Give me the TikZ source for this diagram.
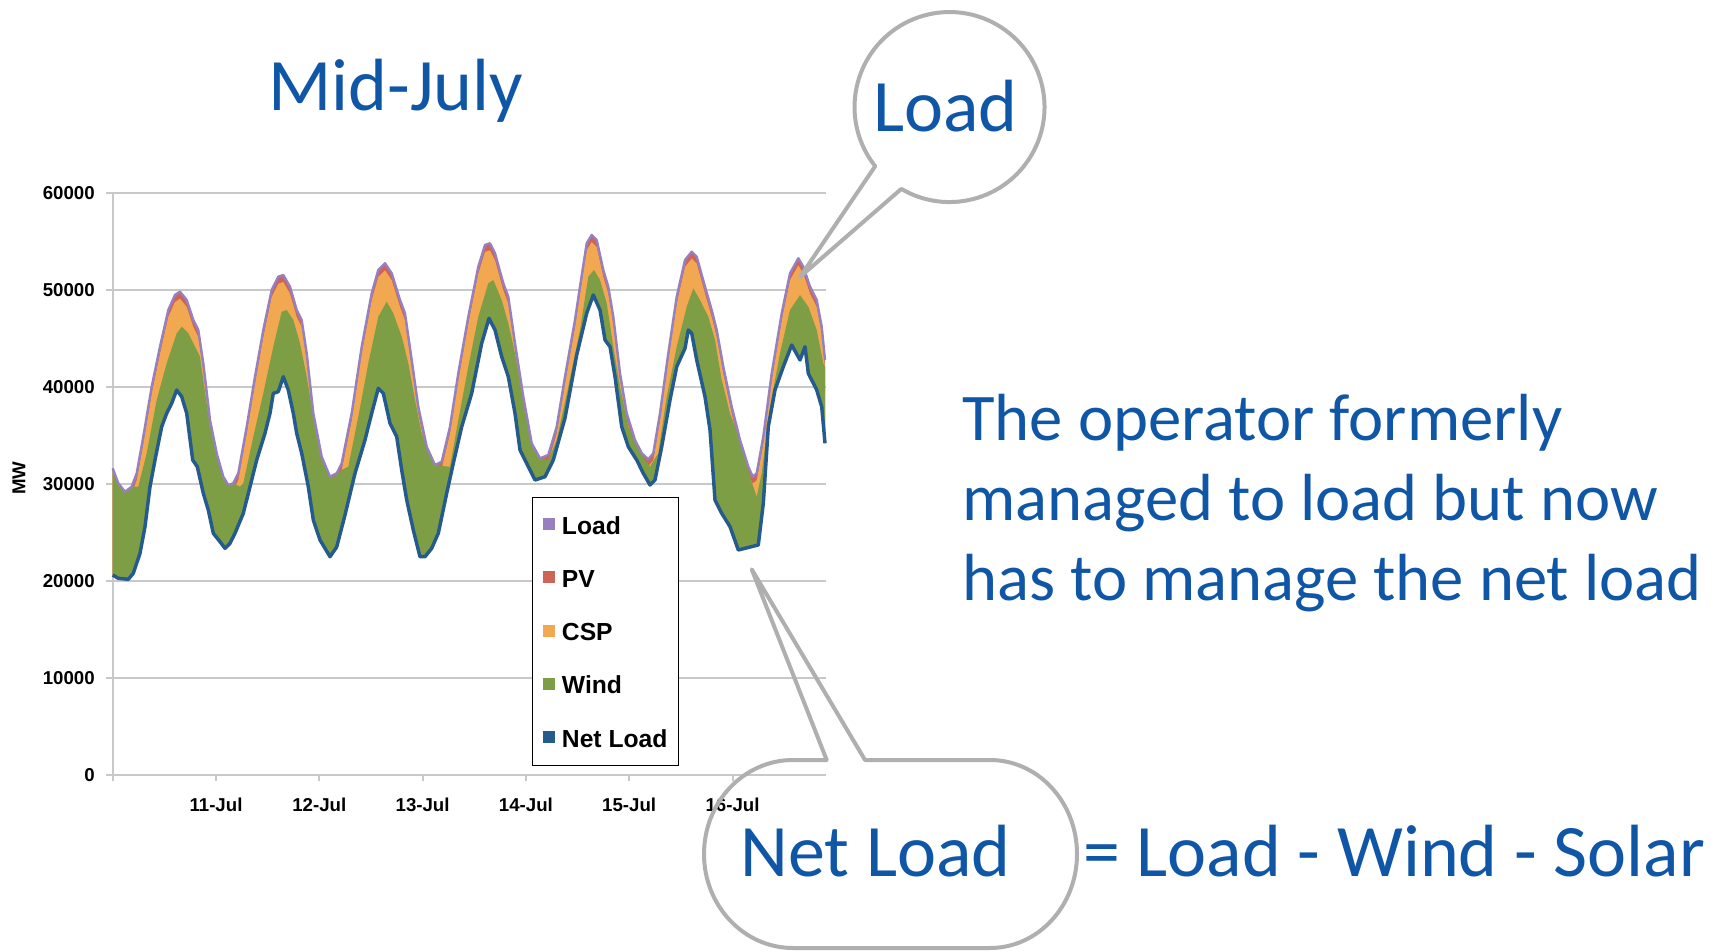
\documentclass[tikz,border=0pt]{standalone}
\usepackage{fontspec}
\setmainfont{Carlito}
\newfontfamily\chartfont{Liberation Sans}
\definecolor{txtblue}{HTML}{0F56A6}
\definecolor{bubgray}{HTML}{AFAFAF}
\definecolor{gridgray}{HTML}{C8C8C8}
\definecolor{loadc}{HTML}{9680C0}
\definecolor{pvc}{HTML}{CD6458}
\definecolor{cspc}{HTML}{F2A850}
\definecolor{windc}{HTML}{7E9E45}
\definecolor{netc}{HTML}{245A8C}

\def\Lpts{(112.7,-468.3) -- (118.3,-483.3) -- (125,-491.7) -- (131.7,-486.7) -- (136.7,-473.3) -- (143.3,-436.7) -- (151.7,-386.7) -- (160,-346.7) -- (168.3,-310) -- (175,-295) -- (180,-291.7) -- (186.7,-300) -- (193.3,-320) -- (198.3,-330) -- (203.3,-363.3) -- (210,-420) -- (216.7,-453.3) -- (223.3,-476.7) -- (228.3,-485) -- (233.3,-483.3) -- (238.3,-473.3) -- (246.7,-426.7) -- (255,-376.7) -- (263.3,-330) -- (271.7,-290) -- (278.3,-276.7) -- (283.3,-275) -- (290,-286.7) -- (296.7,-310) -- (301.7,-320) -- (306.7,-353.3) -- (313.3,-413.3) -- (321.7,-456.7) -- (330,-476.7) -- (336.7,-473.3) -- (341.7,-463.3) -- (351.7,-413.3) -- (361.7,-346.7) -- (371.7,-293.3) -- (378.3,-270) -- (385,-263.3) -- (391.7,-273.3) -- (400,-300) -- (405,-313.3) -- (411.7,-360) -- (418.3,-406.7) -- (426.7,-446.7) -- (435,-465) -- (441.7,-461.7) -- (450,-426.7) -- (458.3,-373.3) -- (468.3,-316.7) -- (478.3,-266.7) -- (485,-245) -- (490,-243.3) -- (495,-253.3) -- (503.3,-283.3) -- (508.3,-296.7) -- (515,-343.3) -- (523.3,-396.7) -- (531.7,-443.3) -- (540,-458.3) -- (548.3,-455) -- (556.7,-426.7) -- (565,-376.7) -- (575,-320) -- (580,-286.7) -- (586.7,-243.3) -- (591.7,-235) -- (596.7,-240) -- (603.3,-270) -- (608.3,-286.7) -- (613.3,-316.7) -- (620,-373.3) -- (626.7,-413.3) -- (635,-440) -- (641.7,-453.3) -- (648.3,-459.3) -- (653.3,-453.3) -- (660,-413.3) -- (668.3,-353.3) -- (676.7,-296.7) -- (685,-260) -- (691.7,-251.7) -- (696.7,-256.7) -- (705,-286.7) -- (711.7,-310) -- (716.7,-330) -- (723.3,-366.7) -- (731.7,-406.7) -- (740,-440) -- (748.3,-466.7) -- (752.7,-476.7) -- (756.7,-473.3) -- (763.3,-436.7) -- (771.7,-373.3) -- (781.7,-313.3) -- (790,-273.3) -- (798.3,-258.3) -- (803.3,-266.7) -- (810,-286.7) -- (816.7,-300) -- (821.7,-326.7) -- (825,-360)}

\def\Gpts{(112.7,-468.3) -- (118.3,-483.3) -- (125,-491.7) -- (131.7,-486.7) -- (138.3,-486.7) -- (146.7,-453.3) -- (156.7,-400) -- (166.7,-363.3) -- (176.7,-333.3) -- (181.7,-326.7) -- (188.3,-333.3) -- (195,-346.7) -- (200,-356.7) -- (203.3,-380) -- (210,-426.7) -- (216.7,-453.3) -- (223.3,-476.7) -- (228.3,-485) -- (233.3,-483.3) -- (240,-486.7) -- (243.3,-483.3) -- (253.3,-436.7) -- (263.3,-393.3) -- (273.3,-346.7) -- (281.7,-311.7) -- (286.7,-310) -- (293.3,-320) -- (300,-343.3) -- (306.7,-376.7) -- (313.3,-416.7) -- (321.7,-456.7) -- (330,-476.7) -- (335,-476.7) -- (341.7,-470) -- (348.3,-466.7) -- (358.3,-416.7) -- (368.3,-363.3) -- (378.3,-316.7) -- (386.7,-301.7) -- (393.3,-313.3) -- (401.7,-336.7) -- (408.3,-363.3) -- (415,-400) -- (421.7,-433.3) -- (426.7,-446.7) -- (435,-465) -- (438.3,-465) -- (441.7,-466) -- (450,-466.7) -- (458.3,-420) -- (468.3,-366.7) -- (478.3,-316.7) -- (488.3,-283.3) -- (493.3,-280) -- (501.7,-300) -- (508.3,-323.3) -- (515,-353.3) -- (521.7,-393.3) -- (528.3,-426.7) -- (531.7,-443.3) -- (540,-458.3) -- (548.3,-460) -- (556.7,-440) -- (568.3,-386.7) -- (580,-330) -- (588.3,-276.7) -- (594,-270) -- (600,-280) -- (606.7,-303.3) -- (613.3,-346.7) -- (620,-386.7) -- (628.3,-426.7) -- (636.7,-446.7) -- (641.7,-455) -- (650,-466.7) -- (658.3,-453.3) -- (666.7,-396.7) -- (676.7,-346.7) -- (686.7,-306.7) -- (693.3,-288.3) -- (700,-300) -- (708.3,-316.7) -- (715,-340) -- (721.7,-380) -- (730,-413.3) -- (740,-440) -- (750,-476.7) -- (756.7,-496.7) -- (761.7,-473.3) -- (770,-406.7) -- (780,-353.3) -- (790,-310) -- (800,-295) -- (808.3,-306.7) -- (816.7,-330) -- (823.3,-363.3) -- (825,-366.7)}

\def\Npts{(112.7,-575) -- (118.3,-578.3) -- (128.3,-579.3) -- (133.3,-573.3) -- (140,-553.3) -- (145,-526.7) -- (150,-486.7) -- (155,-460) -- (161.7,-426.7) -- (166.7,-413.3) -- (171.7,-403.3) -- (176.7,-390) -- (181.7,-396.7) -- (186.7,-413.3) -- (192.7,-460) -- (197.3,-466.7) -- (203.3,-493.3) -- (208.3,-510) -- (213.3,-533.3) -- (220,-541.7) -- (225,-548.3) -- (230,-543.3) -- (235,-533.3) -- (243.3,-513.3) -- (250,-486.7) -- (256.7,-460) -- (265,-433.3) -- (270,-413.3) -- (273.3,-393.3) -- (278.3,-391.7) -- (283.3,-376.7) -- (288.3,-390) -- (293.3,-413.3) -- (296.7,-433.3) -- (301.7,-453.3) -- (308.3,-486.7) -- (313.3,-520) -- (320,-540) -- (330,-556.7) -- (336.7,-547) -- (345,-515) -- (355,-473.3) -- (365,-440) -- (371.7,-413.3) -- (378.3,-388.3) -- (383.3,-393.3) -- (390,-423.3) -- (396.7,-436.7) -- (401.7,-470) -- (406.7,-500) -- (413.3,-530) -- (420,-556.7) -- (425,-556.7) -- (431.7,-548.3) -- (438.3,-533.3) -- (446.7,-493.3) -- (453.3,-463.3) -- (461.7,-426.7) -- (471.7,-393.3) -- (481.7,-343.3) -- (489,-318.3) -- (495,-330) -- (501.7,-356.7) -- (508.3,-376.7) -- (515,-413.3) -- (520,-450) -- (528.3,-466.7) -- (535,-480) -- (545,-476.7) -- (553.3,-460) -- (565,-418) -- (576.7,-355) -- (586.7,-313.3) -- (593.3,-295) -- (600,-310) -- (605,-340) -- (610,-346.7) -- (615,-376.7) -- (621.7,-426.7) -- (628.3,-446.7) -- (636.7,-460) -- (643.3,-473.3) -- (650,-485) -- (655,-480) -- (661.7,-446.7) -- (670,-400) -- (676.7,-366.7) -- (685,-348.3) -- (688.3,-330) -- (691.7,-333.3) -- (696.7,-360) -- (705,-396.7) -- (710,-430) -- (715,-500) -- (721.7,-513.3) -- (730,-526.7) -- (738.3,-550) -- (745,-548.3) -- (758.3,-545) -- (763.3,-503.3) -- (768.3,-426.7) -- (775,-390) -- (783.3,-366.7) -- (791.7,-345) -- (800,-360) -- (805,-346.7) -- (808.3,-373.3) -- (816.7,-390) -- (821.7,-406.7) -- (825,-443.3)}

\begin{document}
\begin{tikzpicture}[x=0.75pt,y=0.75pt,
  bigtext/.style={text=txtblue, font=\fontsize{55.5}{66}\selectfont, inner sep=0pt},
  paratext/.style={text=txtblue, font=\fontsize{50}{60}\selectfont, inner sep=0pt, anchor=base west},
  bubble/.style={draw=bubgray, line width=3pt, line join=round},
  gridln/.style={draw=gridgray, line width=1.5pt},
  axislabel/.style={font=\chartfont\bfseries\fontsize{14}{16}\selectfont, inner sep=0pt},
  legendlabel/.style={font=\chartfont\bfseries\fontsize{18.5}{20}\selectfont, inner sep=0pt, anchor=base west},
  legendsq/.style={minimum size=9pt, inner sep=0pt, draw=none}
]
\fill[white] (0,-952) rectangle (1723,0);
\useasboundingbox (0,-952) rectangle (1723,0);

% grid and y labels
\foreach \v/\yy in {0/775,10000/678.05,20000/581.1,30000/484.15,40000/387.2,50000/290.25,60000/193.3}{
  \draw[gridln] (106,-\yy) -- (826,-\yy);
  \node[axislabel, anchor=east] (ylab\v) at (95,-\yy) {\v};
}
\draw[gridln] (112.7,-193.3) -- (112.7,-781);
\foreach \k/\lab in {1/11-Jul,2/12-Jul,3/13-Jul,4/14-Jul,5/15-Jul,6/16-Jul}{
  \draw[gridln] ({112.7+103.3*\k},-775) -- ++(0,-6);
  \node[axislabel, anchor=base] (xlab\k) at ({112.7+103.3*\k},-811) {\lab};
}
\node[axislabel, rotate=90] (mw) at (19,-478) {MW};

% stacked areas
\begin{scope}
  \clip \Npts -- (825,-190) -- (112.7,-190) -- cycle;
  \fill[pvc] \Lpts -- (825,-780) -- (112.7,-780) -- cycle;
  \fill[cspc, shift={(0,-7)}] \Lpts -- (825,-780) -- (112.7,-780) -- cycle;
  \fill[windc] \Gpts -- (825,-780) -- (112.7,-780) -- cycle;
\end{scope}
\draw[loadc, line width=1.8pt, line join=round] \Lpts;
\draw[netc, line width=2.6pt, line join=round] \Npts;

% legend
\node[draw=black, line width=0.8pt, fill=white, minimum width=110pt, minimum height=201.2pt, anchor=north west, inner sep=0pt] (legend) at (531.7,-496.7) {};
\foreach \i/\col/\lab in {0/loadc/Load,1/pvc/PV,2/cspc/CSP,3/windc/Wind,4/netc/Net Load}{
  \node[legendsq, fill=\col] (lsq\i) at (549,{-524-53.3*\i}) {};
  \node[legendlabel] (llab\i) at (561.7,{-534-53.3*\i}) {\lab};
}

% texts
\node[bigtext, anchor=base] (title) at (396,-110.7) {Mid-July};
\node[bigtext, anchor=base] (loadtxt) at (945.5,-131.7) {Load};
\node[bigtext, anchor=base west] (nettxt) at (740,-876.7) {Net Load};
\node[bigtext, anchor=base west] (eqtxt) at (1083,-876.7) {= Load - Wind - Solar};
\node[paratext] (para1) at (962,-440) {The operator formerly};
\node[paratext] (para2) at (962,-520) {managed to load but now};
\node[paratext] (para3) at (962,-600) {has to manage the net load};

% callout bubbles
\coordinate (loadtip) at (800,-277);
\coordinate (nettip) at (751.7,-569.3);
\draw[bubble] (loadtip) -- (901.3,-188.9) arc[start angle=239.5, end angle=578.5, radius=95] -- cycle;
\draw[bubble] (nettip) -- (865,-760) -- (990,-760) arc[start angle=90, end angle=-90, x radius=87, y radius=94] -- (793,-948) arc[start angle=270, end angle=90, x radius=89, y radius=94] -- (826.7,-760) -- cycle;
\end{tikzpicture}
\end{document}
